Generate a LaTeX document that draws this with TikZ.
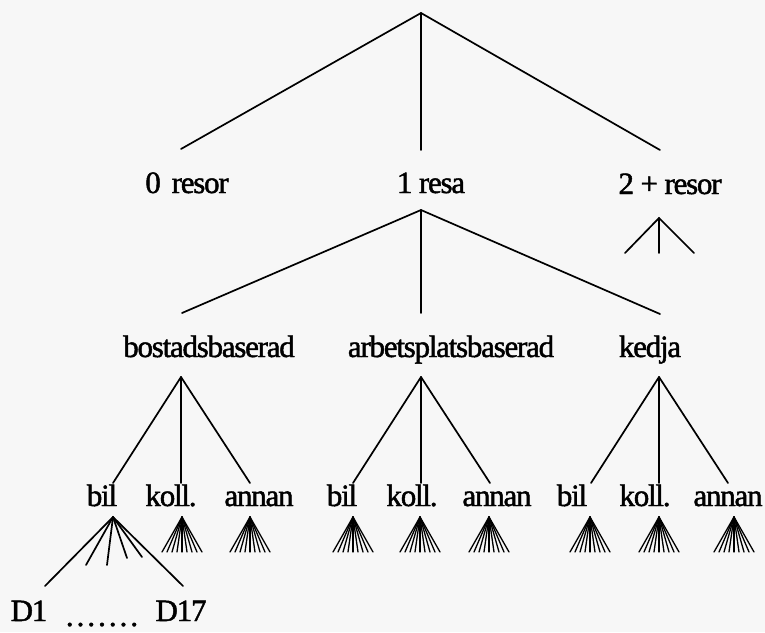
\documentclass[tikz,border=0pt]{standalone}
\usepackage{fontspec}
\setmainfont{Liberation Serif}
\newfontfamily\labelfont{Liberation Serif}[LetterSpace=-4,FakeBold=1.5]
\definecolor{paper}{HTML}{F7F7F7}
\begin{document}
\begin{tikzpicture}[x=1pt,y=-1pt,
  lbl/.style={anchor=base,inner sep=0pt,font=\labelfont\fontsize{31}{31}\selectfont},
  branch/.style={line width=1.7pt,line cap=round},
  bristle/.style={line width=1.3pt,line cap=round}]
\fill[paper] (0,0) rectangle (765,632);
\path[use as bounding box] (0,0) rectangle (765,632);

% number of trips
\coordinate (root) at (421,13);
\coordinate (r0) at (181,149);
\coordinate (r1) at (421,150);
\coordinate (r2) at (660,150);
\draw[branch] (r0) -- (root) -- (r2);
\draw[branch] (root) -- (r1);
\node[lbl] (n0) at (187,193) {0\hspace{0.35em}resor};
\node[lbl] (n1) at (431,193) {1 resa};
\node[lbl] (n2) at (670,194) {2 + resor};

% 2+ trips: short fan
\coordinate (m2) at (659,218);
\coordinate (m2a) at (625,253);
\coordinate (m2b) at (659,253);
\coordinate (m2c) at (694,253);
\draw[branch] (m2a) -- (m2) -- (m2c);
\draw[branch] (m2) -- (m2b);

% 1 trip: trip types
\coordinate (m1) at (421,210);
\coordinate (t0) at (182,313);
\coordinate (t1) at (421,313);
\coordinate (t2) at (660,314);
\draw[branch] (t0) -- (m1) -- (t2);
\draw[branch] (m1) -- (t1);
\node[lbl] (bost) at (209,357) {bostadsbaserad};
\node[lbl] (arb) at (451,357) {arbetsplatsbaserad};
\node[lbl] (ked) at (650,357) {kedja};

% modes under each trip type
\foreach \name/\x in {b/181,a/421,k/659}{
  \coordinate (\name top) at (\x,377);
  \draw[branch] (\name top) -- ++(-68,106);
  \draw[branch] (\name top) -- ++(0,106);
  \draw[branch] (\name top) -- ++(69,106);
}
\node[lbl] (bbil) at (102,506) {bil};
\node[lbl] (bkoll) at (171,506) {koll.};
\node[lbl] (bann) at (259,506) {annan};
\node[lbl] (abil) at (342,506) {bil};
\node[lbl] (akoll) at (412,506) {koll.};
\node[lbl] (aann) at (497,506) {annan};
\node[lbl] (kbil) at (572,506) {bil};
\node[lbl] (kkoll) at (645,506) {koll.};
\node[lbl] (kann) at (728,506) {annan};

% destination brushes
\foreach \name/\x in {bk/182,ba/250,ab/353,ak/420,aa/489,kb/590,kk/659,ka/734}{
  \coordinate (\name) at (\x,517);
  \foreach \dx in {-20,-15,-10,-5,0,5,10,15,20}
    \draw[bristle] (\name) -- ++(\dx,35);
}

% car: destinations D1 ... D17
\coordinate (car) at (113,517);
\coordinate (d1) at (45,586);
\coordinate (d17) at (183,586);
\draw[branch] (d1) -- (car) -- (d17);
\foreach \ex/\ey in {86/565,107/565,127/558,142/557}{
  \coordinate (dm) at (\ex,\ey);
  \draw[branch] (car) -- (dm);
}
\node[lbl] (D1) at (29,621) {D1};
\node[lbl] (D17) at (181,621) {D17};
\node[lbl] (dots) at (102,626) {.\kern3pt.\kern3pt.\kern3pt.\kern3pt.\kern3pt.\kern3pt.};
\end{tikzpicture}
\end{document}
